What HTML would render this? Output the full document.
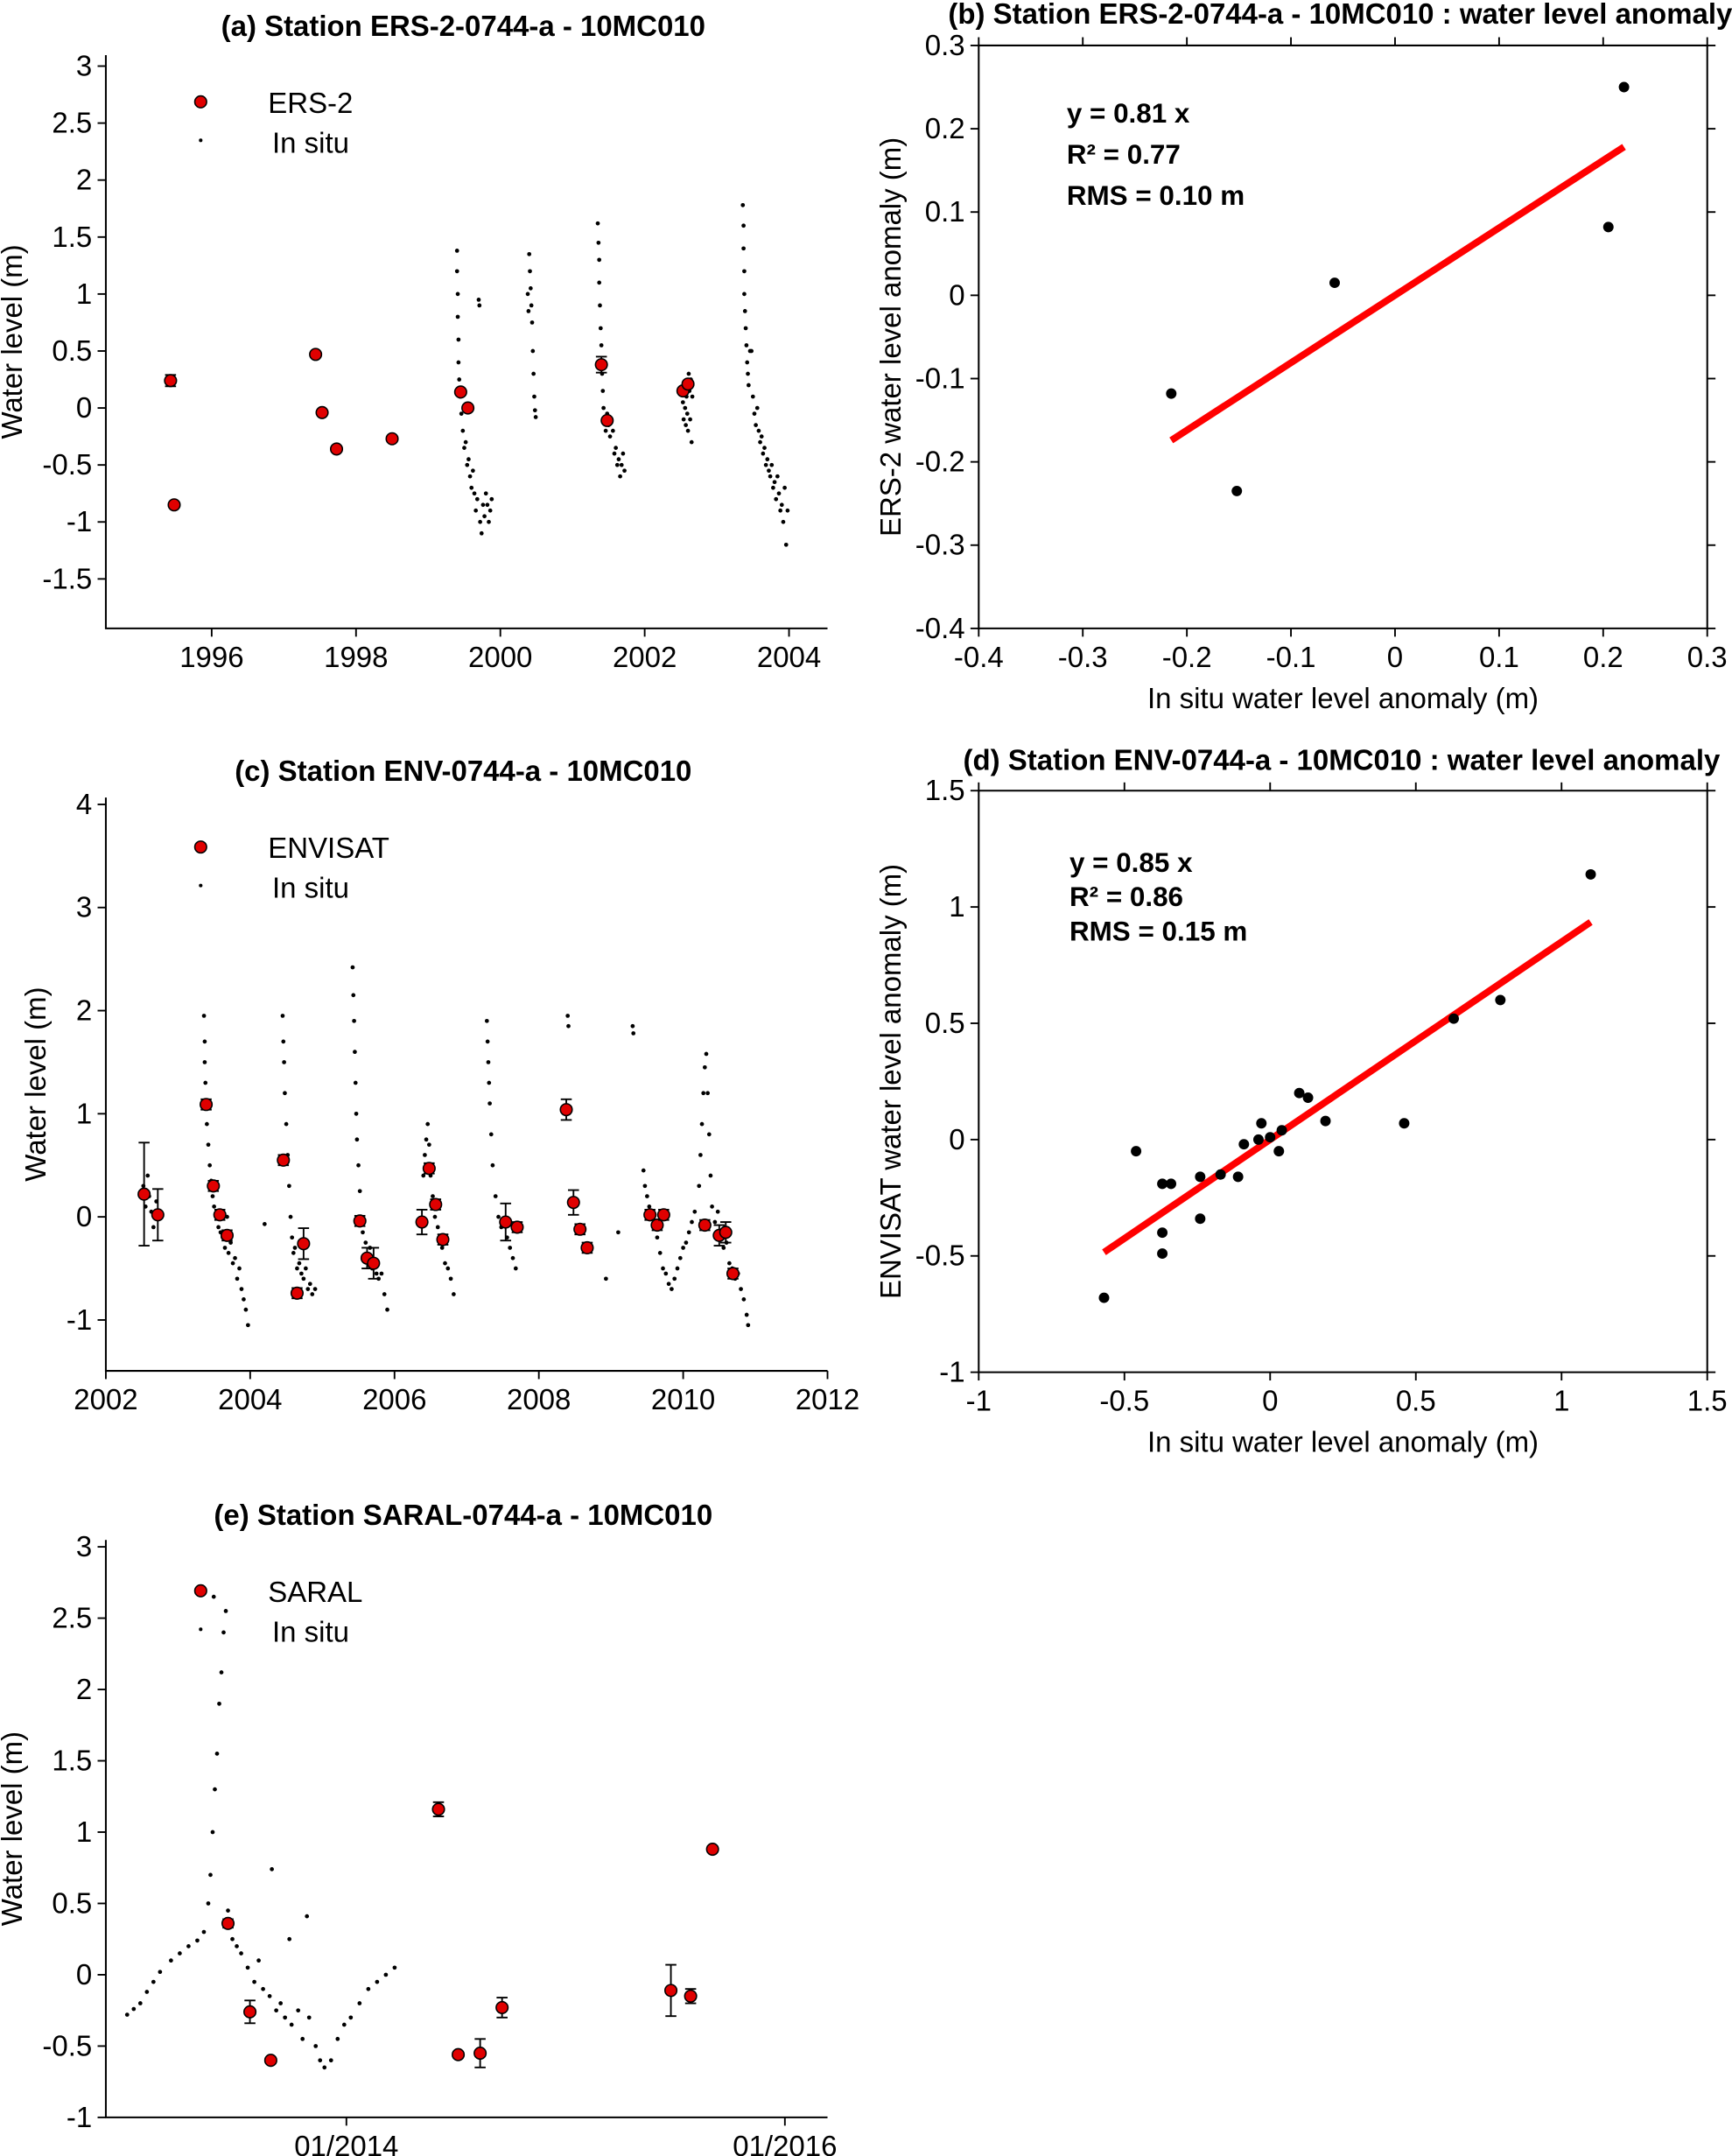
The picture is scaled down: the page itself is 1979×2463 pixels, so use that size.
<!DOCTYPE html>
<html><head><meta charset="utf-8"><style>
html,body{margin:0;padding:0;background:#fff}
svg{display:block}
text{font-family:"Liberation Sans",Arial,sans-serif;fill:#000}
.t{font-size:21px}
.ti{font-size:21px;font-weight:bold}
.lab{font-size:21px}
</style></head><body>
<svg id="fig" width="1979" height="2463" viewBox="0 0 1260 1568" xmlns="http://www.w3.org/2000/svg"></svg>
<script>
// ---------- data ----------
// Panel (a)
const aSatT=[1995.43,1995.48,1997.44,1997.53,1997.73,1998.5,1999.45,1999.55,2001.4,2001.48,2002.53,2002.6];
const aSatV=[0.24,-0.85,0.47,-0.04,-0.36,-0.27,0.14,0.0,0.38,-0.11,0.15,0.21];
const aSatE=[0.05,0,0,0,0,0,0,0,0.07,0,0,0];
const aInT=[1999.40,1999.40,1999.41,1999.41,1999.42,1999.42,1999.43,1999.44,1999.46,1999.48,1999.50,1999.52,1999.54,1999.56,1999.58,1999.60,1999.62,1999.64,1999.66,1999.68,1999.70,1999.71,1999.72,1999.74,1999.76,1999.78,1999.80,1999.82,1999.84,1999.86,1999.88,
2000.38,2000.39,2000.40,2000.41,2000.42,2000.43,2000.44,2000.45,2000.46,2000.47,2000.48,2000.49,
2001.35,2001.36,2001.37,2001.37,2001.38,2001.39,2001.40,2001.41,2001.42,2001.43,2001.44,2001.46,2001.48,2001.50,2001.52,2001.54,2001.56,2001.58,2001.60,2001.62,2001.64,2001.66,2001.68,2001.70,2001.72,
2002.53,2002.54,2002.55,2002.56,2002.57,2002.58,2002.59,2002.60,2002.61,2002.62,2002.63,2002.64,2002.65,2002.66,
2003.36,2003.37,2003.37,2003.38,2003.38,2003.39,2003.40,2003.41,2003.42,2003.43,2003.44,2003.46,2003.48,2003.50,2003.52,2003.54,2003.56,2003.58,2003.60,2003.62,2003.64,2003.66,2003.68,2003.70,2003.72,2003.74,2003.76,2003.78,2003.80,2003.82,2003.84,2003.86,2003.88,2003.90,2003.92,2003.94,2003.96,2003.98];
const aInV=[1.38,1.2,1.0,0.8,0.6,0.4,0.25,0.1,-0.05,-0.2,-0.35,-0.3,-0.5,-0.45,-0.6,-0.7,-0.55,-0.75,-0.9,-0.8,0.95,0.9,-1.0,-1.1,-0.85,-0.95,-0.75,-0.85,-1.0,-0.9,-0.8,
1.0,0.85,1.35,1.2,1.05,0.9,0.75,0.5,0.3,0.1,-0.02,-0.08,
1.62,1.45,1.3,1.1,0.9,0.7,0.55,0.3,0.15,0,-0.1,-0.2,-0.05,-0.15,-0.25,-0.1,-0.2,-0.4,-0.35,-0.5,-0.45,-0.6,-0.5,-0.4,-0.55,
0.05,-0.1,0.2,0.0,-0.15,0.1,-0.05,-0.2,0.3,0.15,-0.1,0.25,-0.3,0.1,
1.78,1.6,1.4,1.2,1.0,0.85,0.7,0.55,0.4,0.3,0.2,0.5,0.5,0.1,-0.05,-0.15,0.0,-0.2,-0.3,-0.25,-0.4,-0.35,-0.5,-0.45,-0.55,-0.6,-0.5,-0.7,-0.65,-0.8,-0.6,-0.75,-0.9,-0.85,-1.0,-0.7,-1.2,-0.9];
const aXTicks=[1996,1998,2000,2002,2004];
const aYTicks=[3,2.5,2,1.5,1,0.5,0,-0.5,-1,-1.5];

// Panel (b)
const bX=[-0.215,-0.152,-0.058,0.205,0.22];
const bY=[-0.118,-0.235,0.015,0.082,0.25];
const bSlope=0.81;
const bXTicks=[-0.4,-0.3,-0.2,-0.1,0,0.1,0.2,0.3];
const bYTicks=[0.3,0.2,0.1,0,-0.1,-0.2,-0.3,-0.4];

// Panel (c)
const cSatT=[2002.53,2002.72,2003.39,2003.49,2003.58,2003.68,2004.46,2004.65,2004.74,2005.52,2005.62,2005.71,2006.38,2006.48,2006.57,2006.67,2007.54,2007.70,2008.38,2008.48,2008.57,2008.67,2009.54,2009.64,2009.73,2010.30,2010.50,2010.59,2010.69];
const cSatV=[0.22,0.02,1.09,0.30,0.02,-0.18,0.55,-0.74,-0.26,-0.04,-0.40,-0.45,-0.05,0.47,0.12,-0.22,-0.05,-0.10,1.04,0.14,-0.12,-0.30,0.02,-0.08,0.02,-0.08,-0.18,-0.15,-0.55];
const cSatE=[0.5,0.25,0.05,0.05,0.05,0.05,0.05,0.05,0.15,0.05,0.1,0.15,0.12,0.05,0.05,0.05,0.18,0.05,0.1,0.12,0.05,0.05,0.05,0.05,0.05,0.05,0.1,0.1,0.05];
const cInT=[2002.52,2002.55,2002.58,2002.60,2002.63,2002.66,2002.70,
2003.36,2003.37,2003.37,2003.38,2003.39,2003.40,2003.42,2003.44,2003.46,2003.48,2003.50,2003.53,2003.56,2003.59,2003.62,2003.65,2003.68,2003.70,2003.73,2003.76,2003.79,2003.82,2003.85,2003.88,2003.91,2003.94,2003.97,
2004.45,2004.46,2004.47,2004.48,2004.50,2004.52,2004.54,2004.56,2004.58,2004.60,2004.62,2004.65,2004.68,2004.71,2004.74,2004.77,2004.80,2004.83,2004.86,2004.90,
2005.42,2005.43,2005.44,2005.45,2005.46,2005.47,2005.48,2005.50,2005.52,2005.54,2005.56,2005.60,2005.63,2005.66,2005.69,2005.72,2005.75,2005.78,2005.82,2005.86,2005.90,
2006.40,2006.42,2006.44,2006.46,2006.48,2006.50,2006.53,2006.56,2006.60,2006.63,2006.66,2006.70,2006.74,2006.78,2006.82,
2007.28,2007.29,2007.30,2007.31,2007.32,2007.34,2007.36,2007.40,2007.44,2007.48,2007.52,2007.56,2007.60,2007.64,2007.68,
2008.40,2008.41,2009.30,2009.31,2008.93,2009.10,2004.20,
2009.45,2009.47,2009.50,2009.53,2009.56,2009.60,2009.64,2009.68,2009.72,2009.76,2009.80,2009.84,2009.88,2009.92,2009.96,2010.00,2010.04,2010.08,2010.12,2010.16,
2010.22,2010.24,2010.26,2010.28,2010.30,2010.32,2010.34,2010.36,2010.38,2010.40,2010.44,2010.48,2010.52,2010.56,2010.60,2010.64,2010.68,2010.72,2010.76,2010.80,2010.84,2010.88,2010.90];
const cInV=[0.3,0.1,0.4,0.2,0.05,-0.1,0.15,
1.95,1.7,1.5,1.3,1.1,0.9,0.7,0.5,0.35,0.2,0.1,0.0,-0.1,-0.15,-0.2,-0.3,0.0,-0.35,-0.25,-0.45,-0.4,-0.6,-0.5,-0.7,-0.8,-0.9,-1.05,
1.95,1.7,1.5,1.2,0.9,0.6,0.3,0.0,-0.2,-0.35,-0.3,-0.5,-0.45,-0.55,-0.6,-0.5,-0.7,-0.65,-0.75,-0.7,
2.42,2.15,1.9,1.6,1.3,1.0,0.75,0.5,0.25,0.0,-0.15,-0.25,-0.4,-0.3,-0.5,-0.45,-0.55,-0.6,-0.55,-0.75,-0.9,
0.4,0.6,0.75,0.9,0.7,0.4,0.2,0.0,-0.1,-0.25,-0.3,-0.45,-0.5,-0.6,-0.75,
1.9,1.7,1.5,1.3,1.1,0.8,0.5,0.2,0.0,-0.1,-0.05,-0.2,-0.3,-0.4,-0.5,
1.95,1.85,1.85,1.78,-0.6,-0.15,-0.07,
0.45,0.3,0.2,0.1,0.0,-0.1,-0.2,-0.35,-0.5,-0.55,-0.65,-0.7,-0.6,-0.5,-0.4,-0.3,-0.25,-0.15,-0.05,0.05,
0.3,0.6,0.9,1.2,1.45,1.58,1.2,0.8,0.4,0.1,-0.05,0.05,-0.2,-0.3,-0.25,-0.45,-0.5,-0.6,-0.55,-0.7,-0.8,-0.95,-1.05];
const cXTicks=[2002,2004,2006,2008,2010,2012];
const cYTicks=[4,3,2,1,0,-1];

// Panel (d)
const dX=[-0.57,-0.46,-0.37,-0.37,-0.37,-0.34,-0.24,-0.24,-0.17,-0.11,-0.09,-0.04,-0.03,0.0,0.03,0.04,0.10,0.13,0.19,0.46,0.63,0.79,1.10];
const dY=[-0.68,-0.05,-0.19,-0.40,-0.49,-0.19,-0.16,-0.34,-0.15,-0.16,-0.02,0.0,0.07,0.01,-0.05,0.04,0.20,0.18,0.08,0.07,0.52,0.60,1.14];
const dSlope=0.85;
const dXTicks=[-1,-0.5,0,0.5,1,1.5];
const dYTicks=[1.5,1,0.5,0,-0.5,-1];

// Panel (e)
const eSatT=[2013.46,2013.56,2013.655,2014.42,2014.51,2014.61,2014.71,2015.48,2015.57,2015.67];
const eSatV=[0.36,-0.26,-0.6,1.16,-0.56,-0.55,-0.23,-0.11,-0.15,0.88];
const eSatE=[0.03,0.08,0.02,0.05,0.02,0.1,0.07,0.18,0.05,0.02];
const eInT=[2013.0,2013.03,2013.06,2013.09,2013.12,2013.15,2013.2,2013.24,2013.28,2013.32,2013.35,2013.37,2013.38,2013.39,2013.40,2013.41,2013.42,2013.43,2013.44,2013.45,2013.46,2013.48,2013.5,2013.52,2013.55,2013.58,2013.6,2013.62,2013.65,2013.68,2013.7,2013.72,2013.75,2013.78,2013.8,2013.83,2013.86,2013.88,2013.9,2013.93,2013.96,2013.99,2014.02,2014.06,2014.1,2014.14,2014.18,2014.22,2013.66,2013.82,2013.74,2013.395];
const eInV=[-0.28,-0.24,-0.2,-0.12,-0.05,0.02,0.1,0.15,0.2,0.24,0.3,0.5,0.7,1.0,1.3,1.55,1.9,2.12,2.4,2.55,0.45,0.25,0.2,0.15,0.05,-0.05,0.1,-0.1,-0.15,-0.25,-0.2,-0.3,-0.35,-0.25,-0.45,-0.3,-0.5,-0.6,-0.65,-0.6,-0.45,-0.35,-0.3,-0.2,-0.1,-0.05,0.0,0.05,0.74,0.41,0.25,2.65];
const eXTicks=[2014,2016];
const eXTickLabels=["01/2014","01/2016"];
const eYTicks=[3,2.5,2,1.5,1,0.5,0,-0.5,-1];

// ---------- drawing ----------
const NS="http://www.w3.org/2000/svg";
const svg=document.getElementById('fig');
function mk(tag,attrs,parent){const e=document.createElementNS(NS,tag);for(const k in attrs)e.setAttribute(k,attrs[k]);(parent||svg).appendChild(e);return e;}
function lin(d0,d1,p0,p1){return v=>p0+(v-d0)*(p1-p0)/(d1-d0);}

function axes(o){
  const g=mk('g',{});
  
  
  const {x0,x1,y0,y1}=o.box;
  const ax=mk('path',{d:o.full?`M${x0},${y0}H${x1}V${y1}H${x0}Z`:`M${x0},${y0}V${y1}H${x1}`,fill:'none',stroke:'#000','stroke-width':1.3},g);
  
  
  o.yt.forEach((v,i)=>{const y=o.sy(v);
    mk('line',{x1:x0-6,x2:x0,y1:y,y2:y,stroke:'#000','stroke-width':1.2},g);
    if(o.full)mk('line',{x1:x1,x2:x1+6,y1:y,y2:y,stroke:'#000','stroke-width':1.2},g);
    const t=mk('text',{x:x0-10,y:y+7,'text-anchor':'end',class:'t'},g);t.textContent=String(v);
    
    });
  o.xt.forEach((v,i)=>{const x=o.sx(v);
    mk('line',{x1:x,x2:x,y1:y1,y2:y1+6,stroke:'#000','stroke-width':1.2},g);
    if(o.full)mk('line',{x1:x,x2:x,y1:y0-6,y2:y0,stroke:'#000','stroke-width':1.2},g);
    const t=mk('text',{x:x,y:y1+28,'text-anchor':'middle',class:'t'},g);t.textContent=o.xl?o.xl[i]:String(v);
    
    });
  const tt=mk('text',{x:o.tx,y:o.ty,'text-anchor':'middle',class:'ti'},g);tt.textContent=o.title;
  
  
  const yl=mk('text',{x:0,y:0,'text-anchor':'middle',class:'lab',transform:`translate(${o.ylx},${(y0+y1)/2+(o.yoff||0)}) rotate(-90)`},g);yl.textContent=o.ylab;
  
  
  if(o.xlab){const xl=mk('text',{x:(x0+x1)/2,y:y1+58,'text-anchor':'middle',class:'lab'},g);xl.textContent=o.xlab;
    
    }
  return g;
}
function dots(g,T,V,sx,sy){T.forEach((t,i)=>{const c=mk('circle',{cx:sx(t),cy:sy(V[i]),r:1.5,fill:'#000'},g);
  
  });}
function sats(g,T,V,E,sx,sy){T.forEach((t,i)=>{const x=sx(t),y=sy(V[i]);
  if(E[i]>0){const a=sy(V[i]+E[i]),b=sy(V[i]-E[i]);
    const eb=mk('path',{d:`M${x},${a}V${b}M${x-4},${a}H${x+4}M${x-4},${b}H${x+4}`,stroke:'#000','stroke-width':1.2,fill:'none'},g);
    
    }
  const c=mk('circle',{cx:x,cy:y,r:4.3,fill:'#e00000',stroke:'#000','stroke-width':1},g);
  
  });}
function legend(g,x,y,name){
  const c=mk('circle',{cx:x,cy:y,r:4.3,fill:'#e00000',stroke:'#000','stroke-width':1},g);
  
  
  const t=mk('text',{x:x+49,y:y+8,class:'t'},g);t.textContent=name;
  
  
  const d=mk('circle',{cx:x,cy:y+28,r:1.3,fill:'#000'},g);
  
  
  const t2=mk('text',{x:x+52,y:y+37,class:'t'},g);t2.textContent='In situ';
  
  
}
function scatter(g,X,Y,slope,sx,sy){
  const xmin=Math.min(...X),xmax=Math.max(...X);
  const l=mk('line',{x1:sx(xmin),y1:sy(slope*xmin),x2:sx(xmax),y2:sy(slope*xmax),stroke:'#ff0000','stroke-width':5},g);
  
  
  X.forEach((v,i)=>{const c=mk('circle',{cx:sx(v),cy:sy(Y[i]),r:3.8,fill:'#000'},g);
    
    });
}
function stats(g,x,y,lines,dy){lines.forEach((s,i)=>{const t=mk('text',{x:x,y:y+i*dy,class:'ti',style:'font-size:20px'},g);t.textContent=s;
  
  });}

// (a)
{const sx=lin(1996,2004,154,574),sy=lin(3,-1.5,48,421);
 const g=axes({name:'panel-a',box:{x0:77,x1:602,y0:40,y1:457},sx,sy,xt:aXTicks,yt:aYTicks,title:'(a) Station ERS-2-0744-a - 10MC010',tx:337,ty:26,ylab:'Water level (m)',ylx:16,yoff:0});
 dots(g,aInT,aInV,sx,sy);sats(g,aSatT,aSatV,aSatE,sx,sy);legend(g,146,74,'ERS-2');}
// (b)
{const sx=lin(-0.4,0.3,712,1242),sy=lin(0.3,-0.4,33,457);
 const g=axes({name:'panel-b',full:true,box:{x0:712,x1:1242,y0:33,y1:457},sx,sy,xt:bXTicks,yt:bYTicks,title:'(b) Station ERS-2-0744-a - 10MC010 : water level anomaly',tx:975,ty:17,ylab:'ERS-2 water level anomaly (m)',ylx:655,xlab:'In situ water level anomaly (m)'});
 scatter(g,bX,bY,bSlope,sx,sy);stats(g,776,89,['y = 0.81 x','R² = 0.77','RMS = 0.10 m'],30);}
// (c)
{const sx=lin(2002,2012,77,602),sy=lin(4,-1,585,960);
 const g=axes({name:'panel-c',box:{x0:77,x1:602,y0:580,y1:997},sx,sy,xt:cXTicks,yt:cYTicks,title:'(c) Station ENV-0744-a - 10MC010',tx:337,ty:568,ylab:'Water level (m)',ylx:33});
 dots(g,cInT,cInV,sx,sy);sats(g,cSatT,cSatV,cSatE,sx,sy);legend(g,146,616,'ENVISAT');}
// (d)
{const sx=lin(-1,1.5,712,1242),sy=lin(1.5,-1,575,998);
 const g=axes({name:'panel-d',full:true,box:{x0:712,x1:1242,y0:575,y1:998},sx,sy,xt:dXTicks,yt:dYTicks,title:'(d) Station ENV-0744-a - 10MC010 : water level anomaly',tx:976,ty:560,ylab:'ENVISAT water level anomaly (m)',ylx:655,xlab:'In situ water level anomaly (m)'});
 scatter(g,dX,dY,dSlope,sx,sy);stats(g,778,634,['y = 0.85 x','R² = 0.86','RMS = 0.15 m'],25);}
// (e)
{const sx=lin(2014,2016,252,571),sy=lin(3,-1,1125,1540);
 const g=axes({name:'panel-e',box:{x0:77,x1:602,y0:1120,y1:1540},sx,sy,xt:eXTicks,xl:eXTickLabels,yt:eYTicks,title:'(e) Station SARAL-0744-a - 10MC010',tx:337,ty:1109,ylab:'Water level (m)',ylx:16});
 dots(g,eInT,eInV,sx,sy);sats(g,eSatT,eSatV,eSatE,sx,sy);legend(g,146,1157,'SARAL');}
</script>
</body></html>
